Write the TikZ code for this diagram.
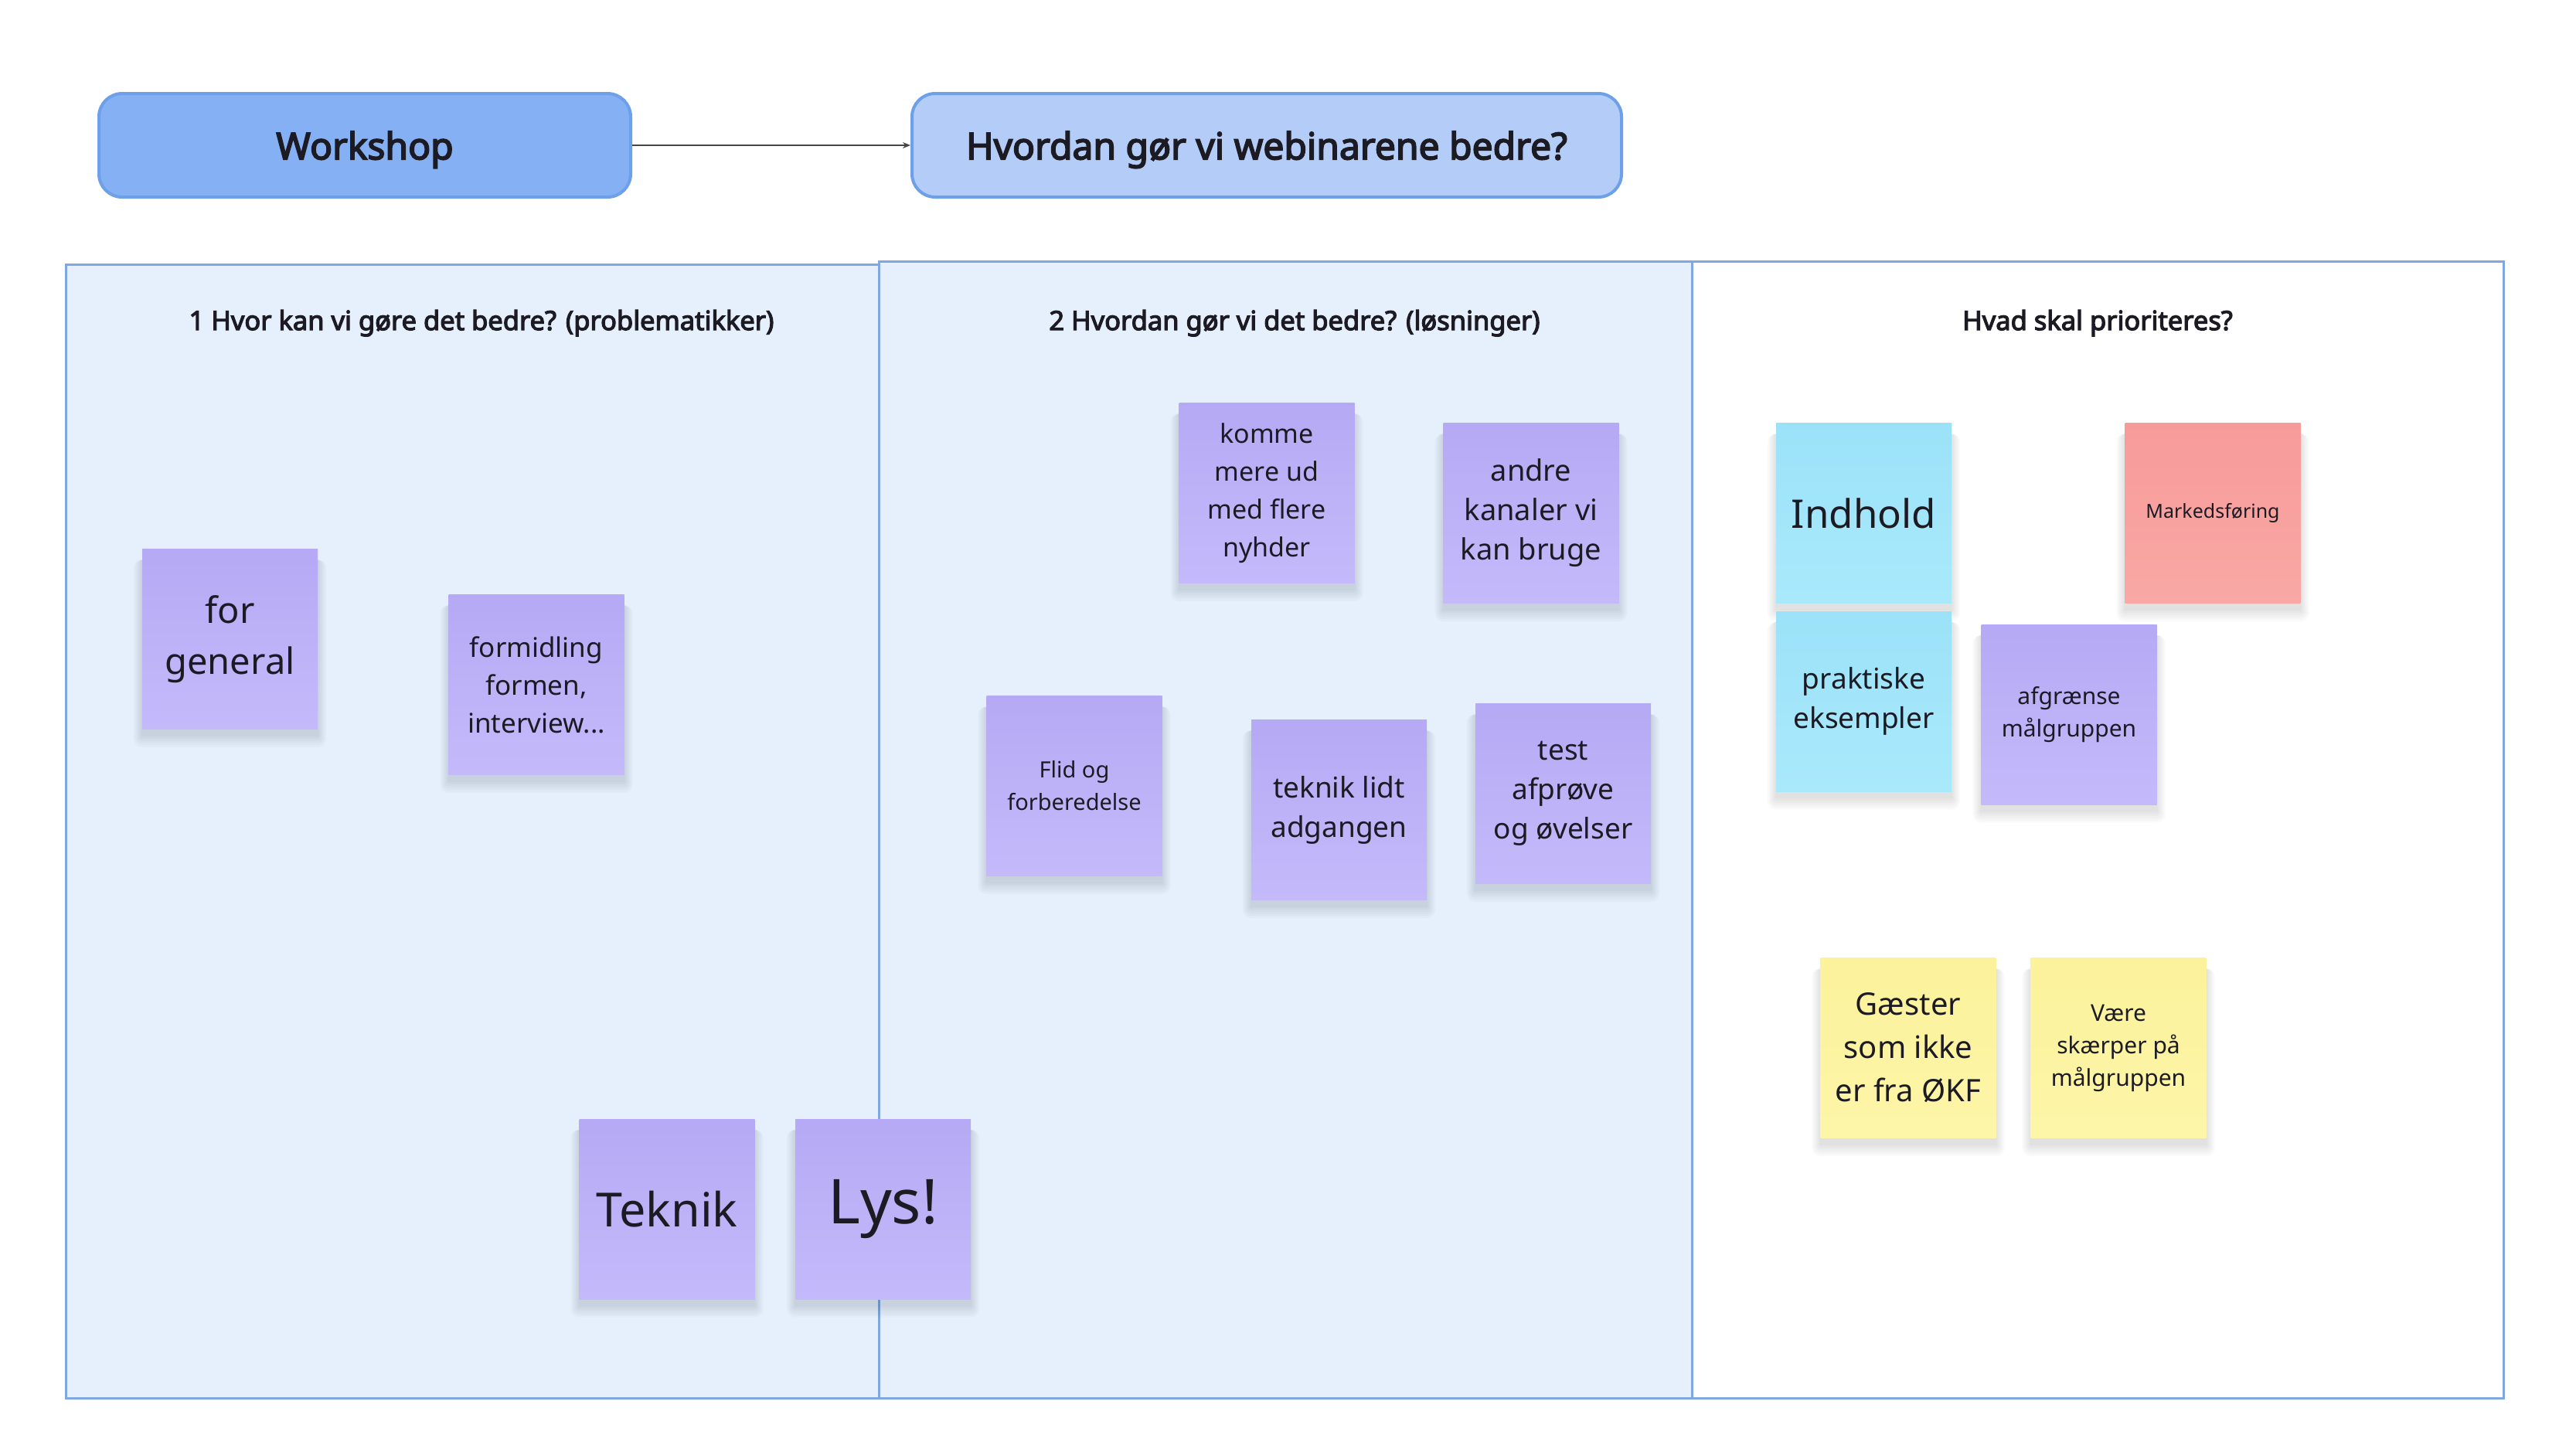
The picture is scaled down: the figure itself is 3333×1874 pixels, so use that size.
\documentclass[tikz,border=0pt]{standalone}
\usepackage{fontspec}
\setmainfont{Noto Sans}[AutoFakeBold=3.5]
\usetikzlibrary{arrows.meta}
\pgfdeclarelayer{panels}
\pgfdeclarelayer{shadowlayer}
\pgfsetlayers{panels,shadowlayer,main}
\definecolor{panelfill}{HTML}{E6F0FD}
\definecolor{panelline}{HTML}{7EA8DF}
\definecolor{boxline}{HTML}{6E9FE9}
\definecolor{wsfill}{HTML}{85B0F4}
\definecolor{hvfill}{HTML}{B3CDF8}
\definecolor{txt}{HTML}{1C1B24}
\tikzset{
  header/.style={draw=boxline, line width=4pt, rounded corners=30pt, minimum width=688pt, minimum height=134pt, inner sep=0pt, text depth=0pt, font=\bfseries\fontsize{48}{56}\selectfont, text=txt},
  panel/.style={draw=panelline, line width=3pt, inner sep=0pt},
  ptitle/.style={font=\bfseries\fontsize{34.5}{40}\selectfont, text=txt, inner sep=0pt, text depth=0pt},
  sticky/.style={minimum width=227pt, minimum height=233pt, inner sep=0pt, align=center, text=txt},
  fs/.style 2 args={font=\fontsize{#1}{#2}\selectfont},
  purple/.style={sticky, top color={rgb,255:red,182;green,169;blue,245}, bottom color={rgb,255:red,196;green,186;blue,250}},
  cyan/.style={sticky, top color={rgb,255:red,155;green,226;blue,248}, bottom color={rgb,255:red,170;green,233;blue,252}},
  salmon/.style={sticky, top color={rgb,255:red,247;green,155;blue,154}, bottom color={rgb,255:red,249;green,168;blue,165}},
  yellow/.style={sticky, top color={rgb,255:red,252;green,242;blue,156}, bottom color={rgb,255:red,253;green,245;blue,168}},
  softshadow/.style={fill=black, opacity=0.02},
}
\begin{document}
\begin{tikzpicture}[x=1pt,y=-1pt]
\useasboundingbox (0,0) rectangle (3333,1874);
% panels
\begin{pgfonlayer}{panels}
\fill[white] (0,0) rectangle (3333,1874);
\node[panel, fill=panelfill, minimum width=1052pt, minimum height=1467pt] (p1) at (611,1075.5) {};
\node[panel, fill=panelfill, minimum width=1052pt, minimum height=1471pt] (p2) at (1663,1073.5) {};
\node[panel, fill=white, minimum width=1050pt, minimum height=1471pt] (p3) at (2714,1073.5) {};
\end{pgfonlayer}
\node[ptitle] (t1) at (623,414) {1 Hvor kan vi gøre det bedre? (problematikker)};
\node[ptitle] (t2) at (1675,414) {2 Hvordan gør vi det bedre? (løsninger)};
\node[ptitle] (t3) at (2714,414) {Hvad skal prioriteres?};
% headers
\node[header, fill=wsfill, minimum width=688pt] (ws) at (472,188) {Workshop};
\node[header, fill=hvfill, minimum width=918pt] (hv) at (1639,188) {Hvordan gør vi webinarene bedre?};
\draw[draw={rgb,255:red,70;green,70;blue,70}, line width=2pt, -{Stealth[length=10pt,width=8pt]}] (ws.east) -- (hv.west);
% stickies panel 1
\node[purple, fs={47}{66}] (forgen) at (297.5,827) {for\\general};
\node[purple, fs={35}{49}] (formid) at (694,886) {formidling\\formen,\\interview...};
\node[purple, fs={61}{80}] (teknik) at (863,1564.5) {Teknik};
\node[purple, fs={80}{100}] (lys) at (1142.5,1564.5) {Lys!};
% stickies panel 2
\node[purple, fs={34}{49}] (komme) at (1639,638) {komme\\mere ud\\med flere\\nyhder};
\node[purple, fs={38}{51}] (andre) at (1981,664) {andre\\kanaler vi\\kan bruge};
\node[purple, fs={29}{42}] (flid) at (1390,1017) {Flid og\\forberedelse};
\node[purple, fs={37}{51}] (teknikl) at (1732.5,1048) {teknik lidt\\adgangen};
\node[purple, fs={37}{51}] (test) at (2022.5,1027) {test\\afprøve\\og øvelser};
% stickies panel 3
\node[cyan, fs={51}{70}] (indhold) at (2411.5,664) {Indhold};
\node[salmon, fs={25}{35}] (marked) at (2863,664) {Markedsføring};
\node[cyan, fs={37}{51}] (prakt) at (2411.5,907.5) {praktiske\\eksempler};
\node[purple, fs={30}{42}] (afgr) at (2677,924.5) {afgrænse\\målgruppen};
\node[yellow, fs={40}{56}] (gaest) at (2469,1356) {Gæster\\som ikke\\er fra ØKF};
\node[yellow, fs={30}{42}] (vaere) at (2741,1356) {Være\\skærper på\\målgruppen};
% soft shadows
\begin{pgfonlayer}{shadowlayer}
\foreach \n in {forgen,formid,teknik,lys,komme,andre,flid,teknikl,test,indhold,marked,prakt,afgr,gaest,vaere}{
  \foreach \k in {1,3,5,7,9,11}{
    \fill[softshadow, rounded corners=\k pt] ([xshift=-\k pt, yshift=-14pt] \n.north west) rectangle ([xshift=\k pt, yshift={-8pt-1.4*\k pt}] \n.south east);
  }
}
\end{pgfonlayer}
\end{tikzpicture}
\end{document}
